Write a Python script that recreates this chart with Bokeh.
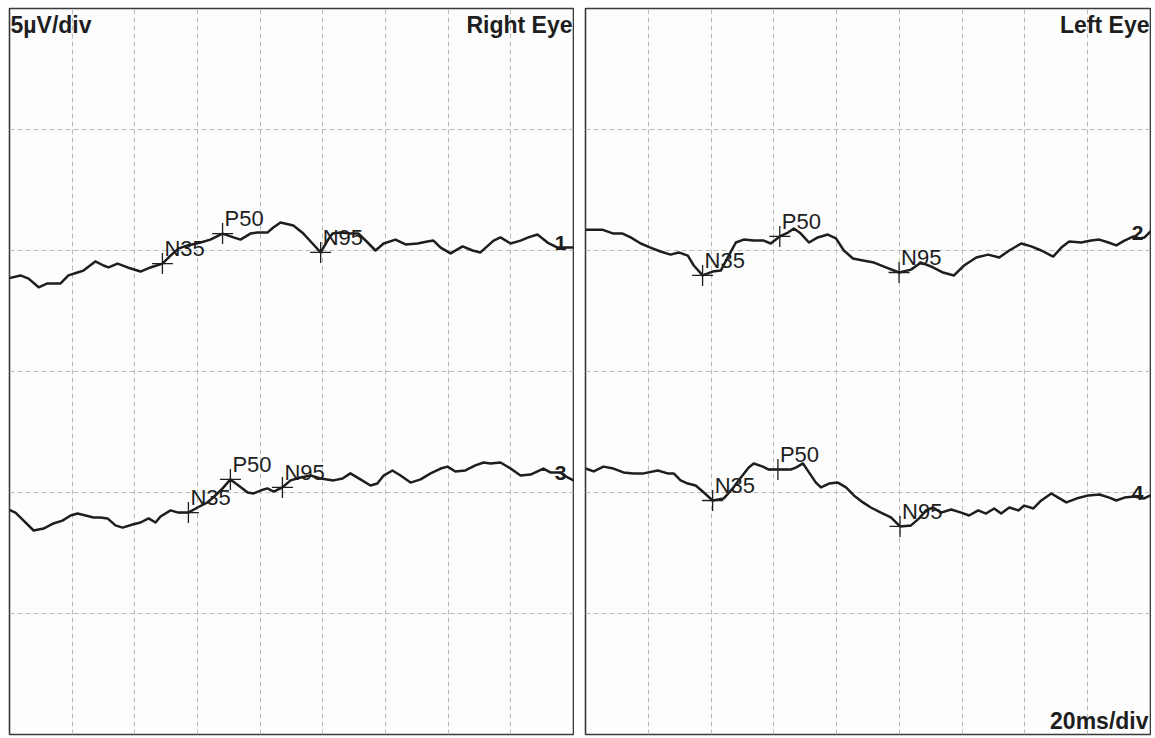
from bokeh.plotting import figure
from bokeh.models import Grid, FixedTicker, Range1d
from bokeh.layouts import row
from bokeh.core.properties import value
from bokeh.embed import file_html
from bokeh.resources import INLINE

# ---------------- data (time in ms, amplitude in µV relative to trace baseline) ----------------
t1 = [0.3, 3.5, 6.1, 9.3, 12.1, 16.3, 18.8, 21.7, 23.6, 27.4, 30.0, 31.6, 34.5, 37.7, 41.8,
      45.0, 48.8, 51.4, 53.9, 56.8, 61.0, 64.1, 68.0, 71.5, 73.7, 76.9, 79.1, 82.3, 84.2, 86.5,
      90.6, 93.8, 96.7, 99.3, 101.5, 103.1, 105.6, 108.8, 111.4, 114.3, 116.8, 119.4, 123.2,
      126.4, 130.2, 133.4, 135.3, 137.6, 140.8, 144.6, 147.8, 150.3, 154.5, 156.7, 159.9, 163.1,
      165.6, 168.5, 171.7, 174.9, 178.1, 180.0]
v1 = [-1.13, -1.03, -1.16, -1.52, -1.36, -1.36, -1.03, -0.91, -0.83, -0.45, -0.62, -0.70, -0.54,
      -0.70, -0.87, -0.70, -0.54, -0.21, 0.08, 0.21, 0.33, 0.45, 0.70, 0.54, 0.45, 0.70, 0.74,
      0.74, 0.95, 1.16, 1.03, 0.70, 0.29, -0.08, 0.41, 0.70, 0.74, 0.70, 0.70, 0.33, 0.0, 0.29,
      0.45, 0.25, 0.29, 0.37, 0.41, 0.12, -0.12, 0.17, 0.0, -0.08, 0.41, 0.54, 0.29, 0.41, 0.54,
      0.66, 0.33, 0.12, 0.12, 0.12]

t2 = [0.0, 5.3, 8.9, 11.8, 14.4, 17.6, 20.7, 23.9, 27.1, 29.7, 32.6, 34.5, 37.3, 40.5, 43.1,
      45.3, 47.9, 50.4, 53.6, 56.8, 59.0, 61.9, 64.5, 66.4, 68.6, 71.2, 74.0, 77.2, 79.8, 82.3,
      85.2, 88.4, 91.9, 95.7, 99.9, 103.7, 106.9, 110.1, 113.9, 117.4, 120.6, 124.5, 128.3,
      131.8, 135.0, 138.8, 142.0, 145.2, 149.0, 151.6, 154.1, 157.9, 161.1, 163.7, 166.6, 169.1,
      171.7, 174.6, 176.5, 178.1, 180.0]
v2 = [0.86, 0.86, 0.70, 0.70, 0.54, 0.29, 0.12, -0.04, -0.17, -0.08, -0.21, -0.62, -1.03, -0.87,
      -0.83, -0.29, 0.33, 0.45, 0.41, 0.41, 0.29, 0.58, 0.74, 0.91, 0.70, 0.33, 0.54, 0.66, 0.50,
      0.0, -0.33, -0.41, -0.50, -0.70, -0.91, -0.79, -0.50, -0.66, -0.91, -1.03, -0.62, -0.29,
      -0.17, -0.29, 0.0, 0.29, 0.17, 0.0, -0.25, 0.12, 0.37, 0.33, 0.41, 0.45, 0.33, 0.21, 0.41,
      0.58, 0.50, 0.54, 0.79]

t3 = [0.3, 1.9, 4.5, 7.7, 10.9, 14.0, 16.9, 19.5, 21.7, 24.3, 26.8, 29.0, 31.3, 33.8, 36.1,
      39.3, 41.8, 44.4, 46.6, 48.2, 51.4, 53.9, 57.1, 60.0, 63.2, 66.4, 68.3, 70.5, 73.1, 76.0,
      77.9, 80.1, 82.3, 84.3, 87.1, 89.7, 92.9, 96.1, 99.3, 103.4, 106.3, 108.8, 112.0, 115.2,
      117.4, 119.4, 122.2, 124.8, 128.0, 131.2, 134.4, 137.6, 139.8, 142.3, 145.5, 148.7, 151.3,
      153.5, 156.7, 159.9, 163.1, 166.3, 170.4, 172.6, 175.8, 178.1, 180.0]
v3 = [-0.74, -0.83, -1.16, -1.57, -1.49, -1.28, -1.16, -0.95, -0.87, -0.95, -1.03, -1.03, -1.07,
      -1.36, -1.45, -1.32, -1.24, -1.07, -1.24, -0.99, -0.74, -0.83, -0.83, -0.62, -0.41, -0.04,
      0.21, 0.54, 0.29, 0.0, -0.04, 0.08, 0.17, 0.04, 0.21, 0.50, 0.62, 0.70, 0.58, 0.50, 0.58,
      0.79, 0.54, 0.29, 0.37, 0.70, 0.91, 0.70, 0.41, 0.54, 0.79, 0.99, 1.07, 0.87, 0.91, 1.12,
      1.24, 1.20, 1.24, 0.99, 0.70, 0.74, 0.99, 0.83, 0.83, 0.62, 0.50]

t4 = [0.0, 2.6, 5.7, 8.9, 12.1, 15.3, 18.5, 23.0, 26.2, 28.1, 30.3, 32.6, 35.1, 37.7, 40.5,
      44.0, 46.9, 49.5, 52.0, 53.6, 56.5, 58.4, 61.3, 65.4, 67.0, 69.3, 71.2, 73.4, 75.0, 77.6,
      80.4, 83.0, 85.5, 88.4, 90.9, 94.1, 97.3, 100.2, 103.7, 106.3, 108.5, 110.7, 113.3, 116.5,
      119.7, 122.2, 125.1, 127.6, 130.2, 132.4, 135.0, 137.9, 139.8, 142.7, 145.2, 148.4, 150.6,
      153.2, 156.4, 160.2, 163.7, 166.9, 169.1, 171.7, 174.9, 177.8, 180.0]
v4 = [0.99, 0.87, 1.07, 0.99, 0.83, 0.79, 0.79, 0.91, 0.79, 0.79, 0.50, 0.37, 0.29, 0.0, -0.33,
      -0.25, 0.17, 0.62, 1.03, 1.20, 1.07, 0.95, 0.95, 0.95, 1.03, 1.20, 0.83, 0.41, 0.21, 0.37,
      0.41, 0.21, -0.12, -0.41, -0.62, -0.83, -1.03, -1.40, -1.36, -1.07, -0.74, -0.62, -0.83,
      -0.70, -0.83, -0.95, -0.74, -0.87, -0.66, -0.87, -0.62, -0.74, -0.54, -0.66, -0.33, -0.04,
      -0.21, -0.41, -0.25, -0.12, -0.08, -0.21, -0.33, -0.21, -0.17, -0.25, -0.12]

peak_names = ["N35", "P50", "N95"]
peak_t1 = [48.8, 68.0, 99.3]
peak_v1 = [-0.54, 0.70, -0.08]
peak_t2 = [37.3, 61.9, 99.9]
peak_v2 = [-1.03, 0.58, -0.91]
peak_t3 = [57.1, 70.5, 87.1]
peak_v3 = [-0.83, 0.54, 0.21]
peak_t4 = [40.5, 61.3, 100.2]
peak_v4 = [-0.33, 0.95, -1.40]

trace_ids = ["1", "2", "3", "4"]
trace_id_v = [0.33, 0.74, 0.79, 0.0]

time_ticks = [0, 20, 40, 60, 80, 100, 120, 140, 160, 180]   # 20 ms/div
amp_ticks = [0, 5, 10, 15, 20, 25, 30]                        # 5 µV/div

# ---------------- styling ----------------
FONT = "Liberation Sans"
INK = "#1e1e1e"
TOP_BASE = 20      # baseline (µV on the grid) of upper traces
BOT_BASE = 10      # baseline of lower traces


def make_panel(frame_w, border_left, traces, corner_texts):
    p = figure(width=frame_w + border_left + 1, height=736, output_backend="svg",
               toolbar_location=None,
               x_axis_location=None, y_axis_location=None,
               x_range=Range1d(0, 180), y_range=Range1d(0, 30),
               min_border_left=border_left, min_border_right=1,
               min_border_top=8, min_border_bottom=2,
               background_fill_color="#fdfdfe", border_fill_color="white",
               outline_line_color="#3a3a3a", outline_line_width=1.6)
    # drop the default grids (they follow a hidden default ticker)
    for g in list(p.center):
        if isinstance(g, Grid):
            g.visible = False
    for dim, ticks in ((0, time_ticks), (1, amp_ticks)):
        p.add_layout(Grid(dimension=dim, ticker=FixedTicker(ticks=ticks),
                          grid_line_color="#bcbcbc", grid_line_width=1,
                          grid_line_dash="5 3"))
    for (tt, vv, base, pt, pv, tid, tidv) in traces:
        y = [v + base for v in vv]
        p.line(tt, y, line_color=INK, line_width=2.5, line_join="round", line_cap="round")
        py = [v + base for v in pv]
        p.scatter(pt, py, marker="cross", size=21, line_color=INK, line_width=1.3)
        p.text(x=pt, y=py, text=peak_names, x_offset=2, y_offset=-15,
               text_baseline="alphabetic", text_align="left",
               text_font=value(FONT), text_font_size="22px", text_color=INK)
        p.text(x=[180], y=[tidv + base], text=[tid], x_offset=-7,
               text_baseline="alphabetic", text_align="right",
               text_font=value(FONT), text_font_size="21px", text_font_style="bold",
               text_color=INK)
    for (txt, x, y, align, baseline, xo, yo) in corner_texts:
        p.text(x=[x], y=[y], text=[txt], x_offset=xo, y_offset=yo,
               text_align=align, text_baseline=baseline,
               text_font=value(FONT), text_font_size="23px", text_font_style="bold",
               text_color=INK)
    return p


left = make_panel(564, 9, [
    (t1, v1, TOP_BASE, peak_t1, peak_v1, trace_ids[0], trace_id_v[0]),
    (t3, v3, BOT_BASE, peak_t3, peak_v3, trace_ids[2], trace_id_v[2]),
], [
    ("5µV/div", 0, 30, "left", "top", 1, 3),
    ("Right Eye", 180, 30, "right", "top", -1, 3),
])

right = make_panel(565, 11, [
    (t2, v2, TOP_BASE, peak_t2, peak_v2, trace_ids[1], trace_id_v[1]),
    (t4, v4, BOT_BASE, peak_t4, peak_v4, trace_ids[3], trace_id_v[3]),
], [
    ("Left Eye", 180, 30, "right", "top", -1, 3),
    ("20ms/div", 180, 0, "right", "bottom", -2, -1),
])

layout = row(left, right, spacing=0)

open("out.html", "w").write(file_html(layout, INLINE))
